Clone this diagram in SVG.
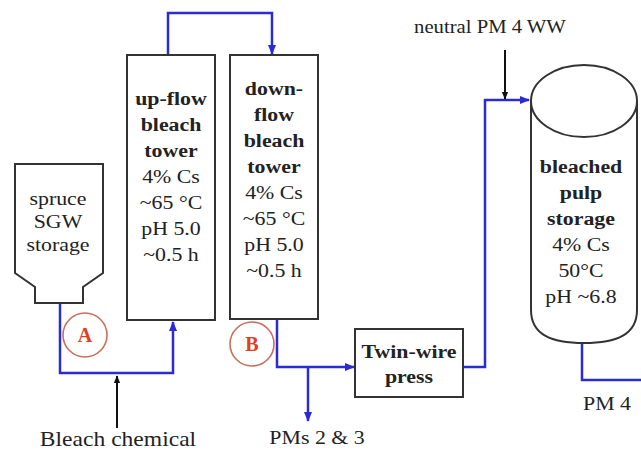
<svg xmlns="http://www.w3.org/2000/svg" width="641" height="451" viewBox="0 0 641 451">
<defs>
<style>
.t{font-size:19px;fill:#222;text-anchor:middle}
.b{font-weight:bold}
.box{fill:#fff;stroke:#333;stroke-width:2}
.blue{fill:none;stroke:#2b2bd6;stroke-width:2.5}
.blk{fill:none;stroke:#111;stroke-width:2}
.circ{fill:#fff;stroke:#c8705c;stroke-width:1.6}
.lt{font-size:20px;font-weight:bold;fill:#e0401c;text-anchor:middle}
</style>
<marker id="ab" viewBox="0 0 10 10" refX="9" refY="5" markerWidth="4" markerHeight="4" orient="auto"><path d="M0,1 L10,5 L0,9 z" fill="#2b2bd6"/></marker>
<marker id="ak" viewBox="0 0 10 10" refX="9" refY="5" markerWidth="4" markerHeight="4" orient="auto"><path d="M0,1 L10,5 L0,9 z" fill="#111"/></marker>
</defs>
<rect width="641" height="451" fill="#fff"/>

<g id="connectors">
<path class="blue" d="M60,304 V373 H173 V322" marker-end="url(#ab)"/>
<path class="blk" d="M117,428 V376" marker-end="url(#ak)"/>
<path class="blue" d="M168,55 V13 H272 V54" marker-end="url(#ab)"/>
<path class="blue" d="M277,319 V367 H354" marker-end="url(#ab)"/>
<path class="blue" d="M308,367 V421" marker-end="url(#ab)"/>
<path class="blue" d="M463,367 H485 V100 H529" marker-end="url(#ab)"/>
<path class="blk" d="M505,50 V99" marker-end="url(#ak)"/>
<path class="blue" d="M582,343 V380 H641"/>
</g>

<g font-family="Liberation Serif, Times New Roman, serif">
<g id="spruce-storage">
<path class="box" d="M15,164 H103 V273 L83,287 V303 H35 V287 L15,273 Z"/>
<text class="t" transform="translate(58,205) scale(1.15,1)">spruce</text>
<text class="t" transform="translate(58,228) scale(1.15,1)">SGW</text>
<text class="t" transform="translate(58,251) scale(1.15,1)">storage</text>
</g>

<g id="circle-A">
<circle class="circ" cx="85" cy="335" r="22"/>
<text class="lt" x="85" y="342">A</text>
</g>

<g id="upflow-tower">
<rect class="box" x="127" y="55" width="88" height="265"/>
<text class="t b" transform="translate(171,105) scale(1.15,1)">up-flow</text>
<text class="t b" transform="translate(171,131) scale(1.15,1)">bleach</text>
<text class="t b" transform="translate(171,157) scale(1.15,1)">tower</text>
<text class="t" transform="translate(171,183) scale(1.15,1)">4% Cs</text>
<text class="t" transform="translate(171,209) scale(1.15,1)">~65 °C</text>
<text class="t" transform="translate(171,235) scale(1.15,1)">pH 5.0</text>
<text class="t" transform="translate(171,261) scale(1.15,1)">~0.5 h</text>
</g>

<g id="downflow-tower">
<rect class="box" x="230" y="55" width="88" height="264"/>
<text class="t b" transform="translate(274,95) scale(1.15,1)">down-</text>
<text class="t b" transform="translate(274,121) scale(1.15,1)">flow</text>
<text class="t b" transform="translate(274,147) scale(1.15,1)">bleach</text>
<text class="t b" transform="translate(274,173) scale(1.15,1)">tower</text>
<text class="t" transform="translate(274,199) scale(1.15,1)">4% Cs</text>
<text class="t" transform="translate(274,225) scale(1.15,1)">~65 °C</text>
<text class="t" transform="translate(274,251) scale(1.15,1)">pH 5.0</text>
<text class="t" transform="translate(274,277) scale(1.15,1)">~0.5 h</text>
</g>

<g id="circle-B">
<circle class="circ" cx="252" cy="344" r="22"/>
<text class="lt" x="252" y="351">B</text>
</g>

<g id="twin-wire-press">
<rect class="box" x="355" y="329" width="108" height="68"/>
<text class="t b" transform="translate(409,358) scale(1.15,1)">Twin-wire</text>
<text class="t b" transform="translate(409,383) scale(1.15,1)">press</text>
</g>

<g id="bleached-pulp-storage">
<path class="box" d="M531,101 V310 C531,335 552,343 584,343 C616,343 637,335 637,310 V101"/>
<ellipse class="box" cx="584" cy="101" rx="53" ry="36"/>
<text class="t b" transform="translate(581,173) scale(1.15,1)">bleached</text>
<text class="t b" transform="translate(581,199) scale(1.15,1)">pulp</text>
<text class="t b" transform="translate(581,225) scale(1.15,1)">storage</text>
<text class="t" transform="translate(581,251) scale(1.15,1)">4% Cs</text>
<text class="t" transform="translate(581,277) scale(1.15,1)">50°C</text>
<text class="t" transform="translate(581,303) scale(1.15,1)">pH ~6.8</text>
</g>

<g id="labels">
<text class="t" font-size="20.5" style="font-size:20.5px" transform="translate(118,446) scale(1.15,1)">Bleach chemical</text>
<text class="t" style="font-size:18px" transform="translate(490,33) scale(1.15,1)">neutral PM 4 WW</text>
<text class="t" transform="translate(317,444) scale(1.15,1)">PMs 2 &amp; 3</text>
<text class="t" transform="translate(607,410) scale(1.15,1)">PM 4</text>
</g>
</g>
</svg>
